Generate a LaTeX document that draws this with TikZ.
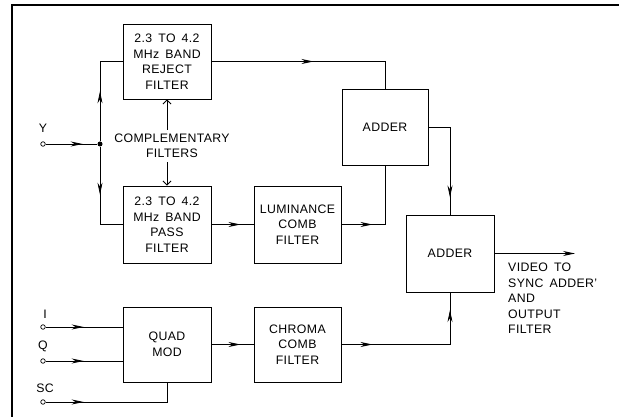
\documentclass[tikz,border=0pt]{standalone}
\usepackage{fontspec}
\setmainfont{Liberation Sans}[LetterSpace=3,WordSpace=1.6]
\usetikzlibrary{arrows.meta,decorations.markings}
\begin{document}
\begin{tikzpicture}[x=1pt,y=-1pt,
  txt/.style={font=\fontsize{12.3}{15.5}\selectfont},
  box/.style={draw,line width=0.9pt,align=center,inner sep=0pt,txt},
  lbl/.style={inner sep=0pt,txt},
  conn/.style={line width=0.8pt},
  term/.style={circle,draw,line width=0.7pt,minimum size=4.5pt,inner sep=0pt},
  dot/.style={circle,fill,minimum size=5pt,inner sep=0pt},
  arrowat/.style={postaction={decorate,decoration={markings,mark=at position #1 with {\arrow{Stealth[length=12pt,width=5pt]}}}}},
  openarrow/.style={-{Straight Barb[length=4pt,width=8pt]}}]
\useasboundingbox (0,0) rectangle (619,417);
% frame
\draw[line width=1.5pt] (12,417) -- (12,5) -- (619,5);
% boxes
\node[box,minimum width=88pt,minimum height=75pt] (rej) at (167,61.5) {2.3 TO 4.2\\MHz BAND\\REJECT\\FILTER};
\node[box,minimum width=88pt,minimum height=77pt] (pass) at (167,224.5) {2.3 TO 4.2\\MHz BAND\\PASS\\FILTER};
\node[box,minimum width=87pt,minimum height=77pt] (lum) at (297.5,224.5) {LUMINANCE\\COMB\\FILTER};
\node[box,minimum width=86pt,minimum height=76pt] (add1) at (385,127) {ADDER};
\node[box,minimum width=88pt,minimum height=77pt] (add2) at (450,253.5) {ADDER};
\node[box,minimum width=88pt,minimum height=75pt] (quad) at (167,344.5) {QUAD\\MOD};
\node[box,minimum width=87pt,minimum height=75pt] (chroma) at (297.5,344.5) {CHROMA\\COMB\\FILTER};
% labels
\node[lbl,align=center] (comp) at (172,146) {COMPLEMENTARY\\FILTERS};
\node[lbl] (ylab) at (43,128) {Y};
\node[lbl] (ilab) at (45,314) {I};
\node[lbl] (qlab) at (43,346) {Q};
\node[lbl] (sclab) at (45,388) {SC};
\node[lbl,align=left,anchor=north west] (out) at (508,263) {VIDEO TO\\SYNC ADDER'\\AND\\OUTPUT\\FILTER};
% terminals
\node[term] (yin) at (43,144) {};
\node[dot] (junc) at (100,144) {};
\node[term] (iin) at (43,327) {};
\node[term] (qin) at (43,361) {};
\node[term] (scin) at (43,402) {};
\coordinate (vout) at (575,253.5);
% connectors
\draw[conn,arrowat=37pt] (yin) -- (junc);
\draw[conn,arrowat=50pt] (junc) |- (rej.west);
\draw[conn,arrowat=48pt] (junc) |- (pass.west);
\draw[conn,openarrow,shorten <=4pt] (comp.north -| rej.south) -- (rej.south);
\draw[conn,openarrow,shorten <=4pt] (comp.south -| pass.north) -- (pass.north);
\draw[conn,arrowat=102pt] (rej.east) -| (add1.north);
\draw[conn,arrowat=29pt] (pass.east) -- (lum.west);
\draw[conn,arrowat=31pt] (lum.east) -| (add1.south);
\draw[conn,arrowat=92pt] (add1.east) -| (add2.north);
\draw[conn,-{Stealth[length=12pt,width=5pt]}] (add2.east) -- (vout);
\draw[conn,arrowat=31pt,arrowat=143pt] (chroma.east) -| (add2.south);
\draw[conn,arrowat=29pt] (quad.east) -- (chroma.west);
\draw[conn,arrowat=38pt] (iin) -- (iin -| quad.west);
\draw[conn,arrowat=38pt] (qin) -- (qin -| quad.west);
\draw[conn,arrowat=38pt] (scin) -| (quad.south);
\end{tikzpicture}
\end{document}
